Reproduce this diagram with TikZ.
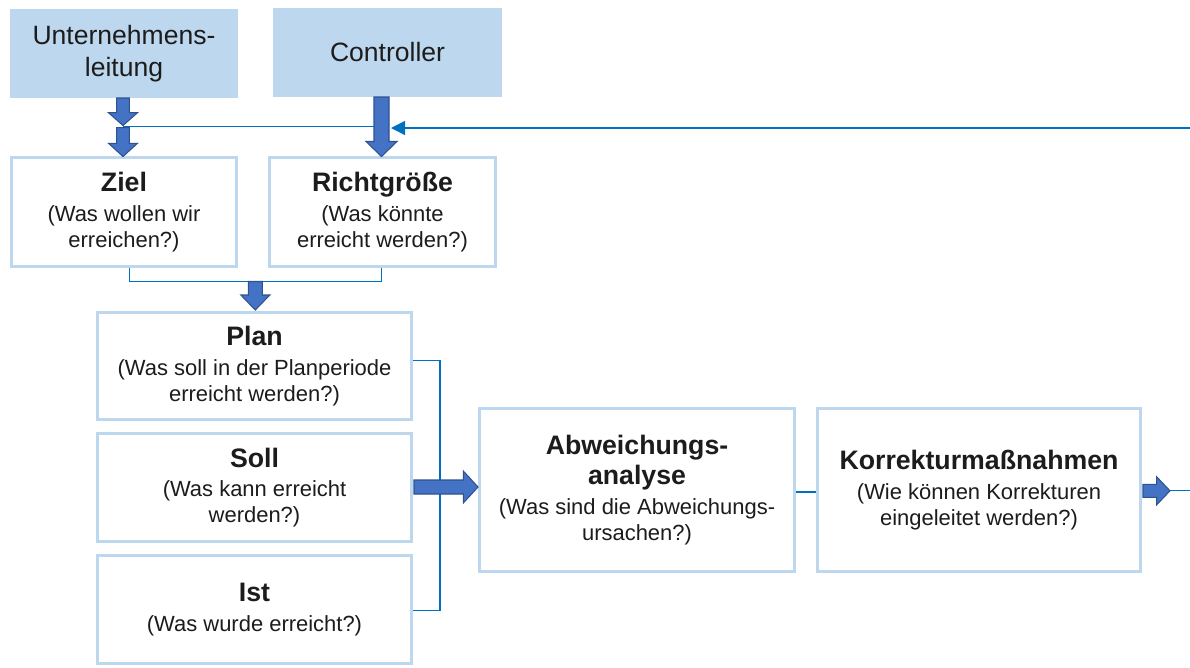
\documentclass[tikz,border=0pt]{standalone}
\usepackage{fontspec}
\setmainfont{Liberation Sans}
\usetikzlibrary{arrows.meta}
\definecolor{boxblue}{HTML}{BDD7EE}
\definecolor{arrfill}{HTML}{4472C4}
\definecolor{arrline}{HTML}{2F528F}
\definecolor{thinblue}{HTML}{0070C0}
\definecolor{txt}{HTML}{1C1C1C}
\newcommand{\ttl}[1]{{\fontsize{15.2}{17}\selectfont\bfseries #1}}
% down block arrow: cx, ytop, yheadstart, ytip, shaft half, head half
\newcommand{\downblock}[6]{%
  \filldraw[barrow] ({#1-#5},#2) -- ({#1+#5},#2) -- ({#1+#5},#3) -- ({#1+#6},#3)
    -- (#1,#4) -- ({#1-#6},#3) -- ({#1-#5},#3) -- cycle;}
% right block arrow: cy, xleft, xheadstart, xtip, shaft half, head half
\newcommand{\rightblock}[6]{%
  \filldraw[barrow] (#2,{#1-#5}) -- (#2,{#1+#5}) -- (#3,{#1+#5}) -- (#3,{#1+#6})
    -- (#4,#1) -- (#3,{#1-#6}) -- (#3,{#1-#5}) -- cycle;}
\tikzset{
  topbox/.style={fill=boxblue, draw=none, inner sep=0pt, text=txt, align=center,
    font=\fontsize{15.1}{18.1}\selectfont},
  framebox/.style={draw=boxblue, line width=1.7pt, fill=white, inner sep=0pt, text=txt,
    align=center, font=\fontsize{12.5}{14.7}\selectfont},
  barrow/.style={fill=arrfill, draw=arrline, line width=0.6pt, line join=miter},
  thinline/.style={draw=thinblue, line width=0.7pt},
}
\begin{document}
\begin{tikzpicture}[x=0.02cm, y=-0.02cm]
\useasboundingbox (0,0) rectangle (1190,667);
% top boxes
\node[topbox, minimum width=4.56cm, minimum height=1.78cm] (ul) at (124,53.5) {Unternehmens-\\leitung};
\node[topbox, minimum width=4.58cm, minimum height=1.78cm] (ctrl) at (387.5,52.5) {Controller};
% frame boxes
\node[framebox, minimum width=4.5cm, minimum height=2.18cm] (ziel) at (124,212)
  {\ttl{Ziel}\\[2.3pt](Was wollen wir\\erreichen?)};
\node[framebox, minimum width=4.52cm, minimum height=2.18cm] (richt) at (382.5,212)
  {\ttl{Richtgröße}\\[2.3pt](Was könnte\\erreicht werden?)};
\node[framebox, minimum width=6.28cm, minimum height=2.14cm] (plan) at (254.5,366)
  {\ttl{Plan}\\[2.3pt](Was soll in der Planperiode\\erreicht werden?)};
\node[framebox, minimum width=6.28cm, minimum height=2.16cm] (soll) at (254.5,487.5)
  {\ttl{Soll}\\[2.3pt](Was kann erreicht\\werden?)};
\node[framebox, minimum width=6.28cm, minimum height=2.16cm] (ist) at (254.5,609.5)
  {\ttl{Ist}\\[2.3pt](Was wurde erreicht?)};
\node[framebox, minimum width=6.3cm, minimum height=3.26cm] (abw) at (637,490)
  {\ttl{Abweichungs-}\\[2.3pt]\ttl{analyse}\\[2.3pt](Was sind die Abweichungs-\\ursachen?)};
\node[framebox, minimum width=6.46cm, minimum height=3.26cm] (kor) at (979,490)
  {\ttl{Korrekturmaßnahmen}\\[2.3pt](Wie können Korrekturen\\eingeleitet werden?)};
% thin connectors
\coordinate (jl) at (123,126.5);
\coordinate (jc) at (381,126.5);
\coordinate (fb) at (1190,128);
\coordinate (fbtip) at (391,128);
\draw[thinline] (jl) -- (jc);
\draw[thinline, -{Triangle[length=0.28cm, width=0.28cm]}] (fb) -- (fbtip);
\draw[thinline] ([xshift=0.11cm]ziel.south) -- ++(0,13.5) -| ([xshift=-0.02cm]richt.south);
\draw[thinline] ([yshift=0.11cm]plan.east) -- ++(27,0) |- ([yshift=-0.02cm]ist.east);
\draw[thinline] ([yshift=-0.04cm]abw.east) -- ([yshift=-0.04cm]kor.west);
\coordinate (out0) at (1170,490.7);
\coordinate (out1) at (1190,490.7);
\draw[thinline] (out0) -- (out1);
% block arrows
\downblock{123}{98}{112.7}{125.5}{6.3}{14.5}
\downblock{123}{127.7}{143.3}{156.5}{6.3}{14.5}
\downblock{381.5}{97}{141.5}{156.5}{7.5}{15.5}
\downblock{255.3}{281.5}{295}{310}{7}{14.5}
\rightblock{487}{414}{463.3}{478}{7}{16}
\rightblock{490.8}{1143}{1156.7}{1170}{6.5}{14}
\end{tikzpicture}
\end{document}
